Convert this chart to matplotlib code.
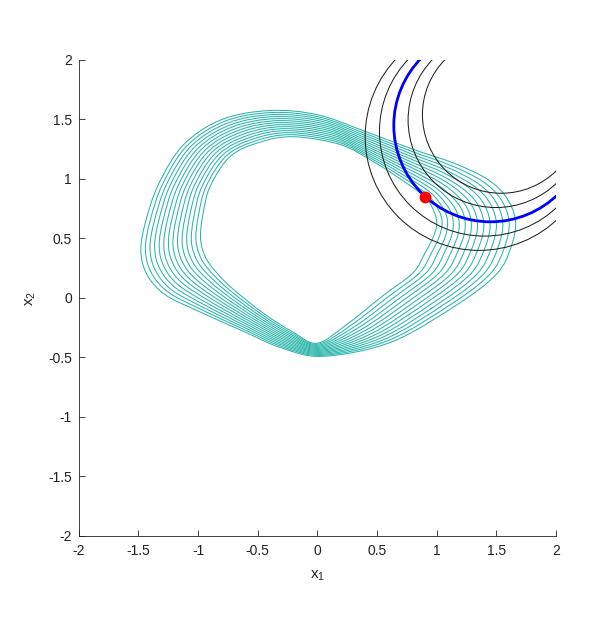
import numpy as np
import matplotlib
matplotlib.use("Agg")
import matplotlib.pyplot as plt
from matplotlib.path import Path
from matplotlib.patches import PathPatch, Circle

plt.rcParams["font.family"] = ["Liberation Sans", "DejaVu Sans"]
plt.rcParams["mathtext.default"] = "regular"

# inner and outer ring of the teal family (clockwise from the left)
inner_x = [-0.98, -0.96, -0.90, -0.73, -0.48, -0.20, 0.19, 0.47, 0.68, 0.90, 0.98, 1.00,
           0.97, 0.90, 0.80, 0.55, 0.25, 0.00, -0.20, -0.45, -0.73, -0.90, -0.96]
inner_y = [0.52, 0.70, 0.935, 1.19, 1.31, 1.355, 1.29, 1.145, 1.01, 0.85, 0.72, 0.62,
           0.51, 0.375, 0.21, 0.02, -0.22, -0.38, -0.29, -0.13, 0.095, 0.28, 0.40]
outer_x = [-1.48, -1.44, -1.33, -1.12, -0.80, -0.40, 0.00, 0.40, 0.80, 1.15, 1.42, 1.58,
           1.66, 1.62, 1.50, 1.18, 0.62, 0.05, -0.30, -0.62, -1.00, -1.28, -1.43]
outer_y = [0.40, 0.64, 0.96, 1.29, 1.50, 1.575, 1.54, 1.40, 1.25, 1.13, 1.00, 0.85,
           0.65, 0.42, 0.20, -0.05, -0.37, -0.49, -0.42, -0.28, -0.11, 0.03, 0.20]
# where each of the 14 teal rings sits between inner (0) and outer (1)
ring_level = [0.0, 0.077, 0.154, 0.231, 0.308, 0.385, 0.462, 0.538,
              0.615, 0.692, 0.769, 0.846, 0.923, 1.0]

# black level circles, the middle one is blue
circ_cx = [1.355, 1.40, 1.45, 1.495, 1.54]
circ_cy = [1.355, 1.40, 1.45, 1.495, 1.54]
circ_r = [0.955, 0.88, 0.81, 0.735, 0.66]
highlight = 2

point_x = [0.898]
point_y = [0.851]

ticks = [-2, -1.5, -1, -0.5, 0, 0.5, 1, 1.5, 2]
tick_labels = ["-2", "-1.5", "-1", "-0.5", "0", "0.5", "1", "1.5", "2"]


def closed_smooth_path(x, y):
    # closed catmull-rom through the points, drawn as cubic beziers
    p = np.column_stack([x, y])
    n = len(p)
    verts = [p[0]]
    codes = [Path.MOVETO]
    for i in range(n):
        p0, p1, p2, p3 = p[i - 1], p[i], p[(i + 1) % n], p[(i + 2) % n]
        verts += [p1 + (p2 - p0) / 6, p2 - (p3 - p1) / 6, p2]
        codes += [Path.CURVE4] * 3
    return Path(verts, codes)


fig = plt.figure(figsize=(6.06, 6.17), dpi=100)
ax = fig.add_axes([0.130, 0.1313, 0.7876, 0.7715])

ix, iy = np.array(inner_x), np.array(inner_y)
ox, oy = np.array(outer_x), np.array(outer_y)
for lvl in ring_level:
    path = closed_smooth_path(ix + lvl * (ox - ix), iy + lvl * (oy - iy))
    ax.add_patch(PathPatch(path, fill=False, edgecolor="#2bb5aa", lw=0.75, zorder=2))

for i in range(len(circ_r)):
    if i == highlight:
        c = Circle((circ_cx[i], circ_cy[i]), circ_r[i], fill=False, edgecolor="#0000ff", lw=2.0, zorder=4)
    else:
        c = Circle((circ_cx[i], circ_cy[i]), circ_r[i], fill=False, edgecolor="#222222", lw=0.75, zorder=3)
    ax.add_patch(c)

ax.plot(point_x, point_y, "o", color="#ff0000", markersize=7.5, zorder=5)

ax.set_xlim(-2, 2)
ax.set_ylim(-2, 2)
ax.set_xticks(ticks)
ax.set_xticklabels(tick_labels)
ax.set_yticks(ticks)
ax.set_yticklabels(tick_labels)
ax.tick_params(direction="in", length=4, width=0.6, labelsize=10, colors="#222222")
ax.tick_params(axis="x", pad=6)
ax.tick_params(axis="y", pad=5)
for s in ["top", "right"]:
    ax.spines[s].set_visible(False)
for s in ["left", "bottom"]:
    ax.spines[s].set_linewidth(0.6)
    ax.spines[s].set_color("#222222")

ax.set_xlabel("x$_1$", fontsize=11, color="#222222")
ax.set_ylabel("x$_2$", fontsize=11, color="#222222")
ax.xaxis.set_label_coords(0.5, -0.068)
ax.yaxis.set_label_coords(-0.085, 0.5)

fig.savefig("out.png", dpi=100)
